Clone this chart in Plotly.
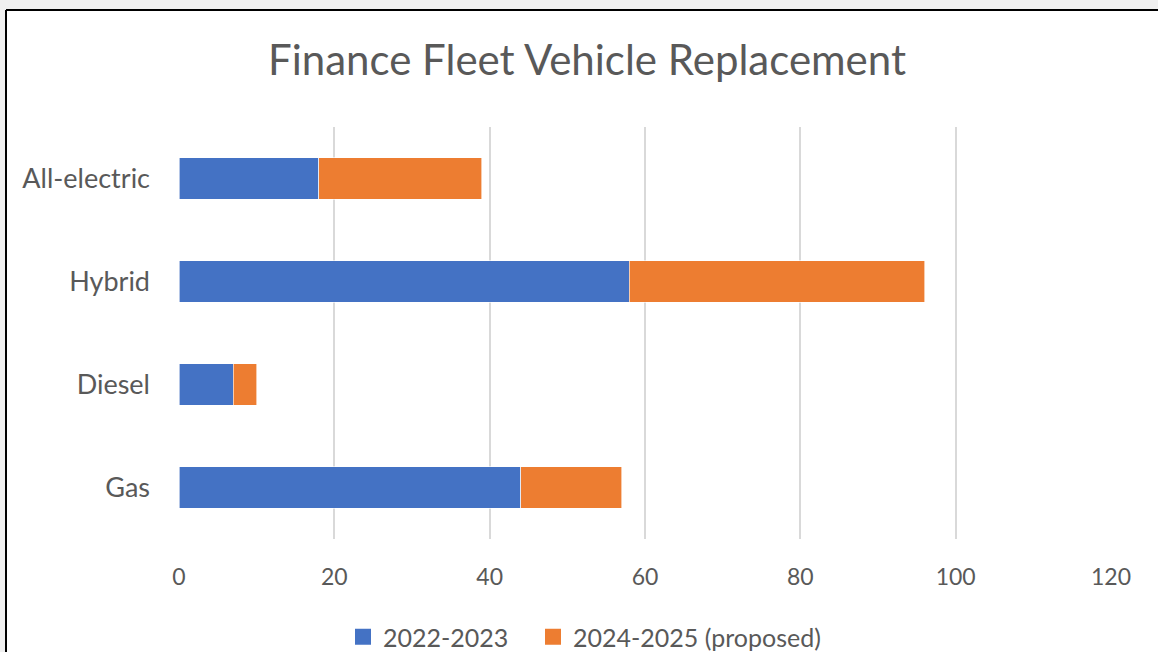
import plotly.graph_objects as go

categories = ["Gas", "Diesel", "Hybrid", "All-electric"]
series_2022_2023 = [44, 7, 58, 18]
series_2024_2025 = [13, 3, 38, 21]
x_ticks = [0, 20, 40, 60, 80, 100, 120]

W, H = 1158, 652
L, R, T, B = 179, 1111, 127, 539
pw, ph = R - L, B - T

def px_x(p):
    return (p - L) / pw

def px_y(p):
    return (B - p) / ph

FONT = "Lato"
GREY = "#595959"
BLUE = "#4472C4"
ORANGE = "#ED7D31"

fig = go.Figure()
fig.add_trace(go.Bar(
    y=categories, x=series_2022_2023, name="2022-2023", orientation="h", showlegend=False,
    marker=dict(color=BLUE, line=dict(color="rgba(255,255,255,0.6)", width=1)),
))
fig.add_trace(go.Bar(
    y=categories, x=series_2024_2025, name="2024-2025 (proposed)", orientation="h", showlegend=False,
    marker=dict(color=ORANGE, line=dict(color="rgba(255,255,255,0.6)", width=1)),
))
# legend entries with larger square swatches, one legend per entry
for nm, col, lg in [("2022-2023", BLUE, "legend"), ("2024-2025 (proposed)", ORANGE, "legend2")]:
    fig.add_trace(go.Scatter(
        x=[None], y=[None], mode="markers", name=nm, legend=lg,
        marker=dict(symbol="square", size=17, color=col), showlegend=True,
    ))

# white chart area and its black border (top and left edges visible)
fig.add_shape(type="rect", xref="paper", yref="paper", layer="below",
              x0=px_x(6), x1=px_x(1160), y0=px_y(654), y1=px_y(10),
              fillcolor="white", line=dict(width=0))
fig.add_shape(type="line", xref="paper", yref="paper", layer="above",
              x0=px_x(6), x1=px_x(1160), y0=px_y(10), y1=px_y(10),
              line=dict(color="black", width=2))
fig.add_shape(type="line", xref="paper", yref="paper", layer="above",
              x0=px_x(6), x1=px_x(6), y0=px_y(654), y1=px_y(10),
              line=dict(color="black", width=2))

leg_common = dict(orientation="h", xanchor="left", y=px_y(637), yanchor="middle",
                  font=dict(size=25, color=GREY), bgcolor="rgba(0,0,0,0)", itemwidth=30)

fig.update_layout(
    width=W, height=H,
    barmode="stack", bargap=0.6,
    paper_bgcolor="#f0f0f0", plot_bgcolor="rgba(0,0,0,0)",
    margin=dict(l=L, r=W - R, t=T, b=H - B, pad=0, autoexpand=False),
    font=dict(family=FONT, color=GREY, size=22),
    title=dict(text="Finance Fleet Vehicle Replacement", x=587 / W, xref="container",
               xanchor="center", y=1 - 60 / H, yanchor="middle",
               font=dict(family=FONT, size=42, color=GREY)),
    xaxis=dict(range=[0, 120], tickvals=x_ticks, showgrid=True, gridcolor="#d9d9d9",
               gridwidth=2, zeroline=False, showline=False, ticks="",
               ticklabelstandoff=22, tickfont=dict(size=23, color=GREY), fixedrange=True),
    yaxis=dict(categoryorder="array", categoryarray=categories, showgrid=False,
               zeroline=False, showline=False, ticks="", ticklabelstandoff=28,
               tickfont=dict(size=27, color=GREY), fixedrange=True),
    legend=dict(x=px_x(343), **leg_common),
    legend2=dict(x=px_x(533), **leg_common),
    showlegend=True,
)

fig.write_html("out.html", config={"displayModeBar": False},
               post_script="document.body.style.margin='0';document.body.style.overflow='hidden';")
